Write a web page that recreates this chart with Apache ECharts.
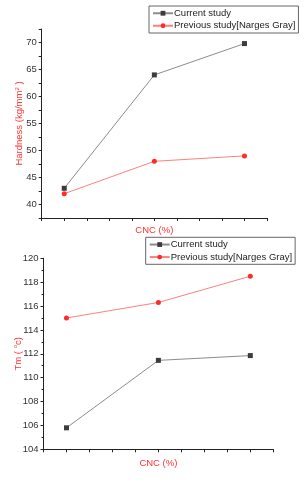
<!DOCTYPE html>
<html><head><meta charset="utf-8">
<script src="https://cdn.jsdelivr.net/npm/echarts@6/dist/echarts.min.js"></script>
<style>html,body{margin:0;padding:0;background:#fff}#c{width:306px;height:480px}</style>
</head><body><div id="c"></div>
<script>
const cnc = [1, 2, 3];
const hardnessCurrent = [43, 64, 69.8];
const hardnessPrevious = [42, 48, 49];
const tmCurrent = [105.8, 111.45, 111.85];
const tmPrevious = [115.0, 116.3, 118.5];
const seriesNames = ['Current study', 'Previous study[Narges Gray]'];

const FONT = '"Liberation Sans", Arial, sans-serif';
const grayLine = '#8c8c8c', grayMark = '#3c3c3c';
const redLine = '#ff8080', redMark = '#ff2a2a';
const nameRed = '#ff3030';

function pairs(xs, ys){ return xs.map((x,i)=>[x, ys[i]]); }

const chart = echarts.init(document.getElementById('c'), null, {renderer:'canvas'});
function xAxisCfg(gi, gap){
  return {
    gridIndex: gi, type:'value', min:0.75, max:3.25, interval:0.25,
    name:'CNC (%)', nameLocation:'middle', nameGap:gap, nameMoveOverlap:false,
    nameTextStyle:{color:nameRed, fontSize:9.5, fontFamily:FONT},
    axisLine:{lineStyle:{color:'#222', width:1}},
    axisTick:{show:true, length:3, lineStyle:{color:'#222'}},
    axisLabel:{show:false}, splitLine:{show:false}
  };
}
function yAxisCfg(gi, min, max, interval, labelStep, name, gap, minor){
  return {
    gridIndex: gi, type:'value', min:min, max:max, interval:interval,
    name:name, nameLocation:'middle', nameGap:gap, nameMoveOverlap:false,
    nameTextStyle:{color:nameRed, fontSize:9.5, fontFamily:FONT,
      rich:{a:{color:nameRed, fontSize:9.5, fontFamily:FONT, lineHeight:11},
            s:{color:nameRed, fontSize:6, fontFamily:FONT, verticalAlign:'top', lineHeight:11}}},
    axisLine:{show:true, lineStyle:{color:'#222', width:1}},
    axisTick:{show:true, length:3, lineStyle:{color:'#222'}},
    minorTick:{show:minor, splitNumber:2, length:2, lineStyle:{color:'#222'}},
    axisLabel:{color:'#333', fontSize:9.5, fontFamily:FONT, margin:5,
      formatter:(v)=> (Math.abs(v/labelStep - Math.round(v/labelStep))<1e-6 ? String(Math.round(v)) : '')},
    splitLine:{show:false}
  };
}
function legendCfg(top, left){
  return {
    show:true, orient:'vertical', top:top, left:left,
    data:seriesNames.map(n=>({name:n})),
    itemWidth:20, itemHeight:6, itemGap:0,
    padding:[1,3,1,3], borderColor:'#666', borderWidth:1, borderRadius:0,
    textStyle:{fontSize:9.5, fontFamily:FONT, color:'#222', lineHeight:12.5, padding:[0,0,0,-4]},
    selectedMode:false
  };
}
chart.setOption({
  animation:false,
  backgroundColor:'#fff',
  grid:[
    {left:41.7, right:39, top:29, bottom:262},
    {left:43.5, right:32.7, top:258.3, bottom:30.7}
  ],
  xAxis:[xAxisCfg(0, 7.5), xAxisCfg(1, 9.5)],
  yAxis:[
    yAxisCfg(0, 37.5, 72.5, 2.5, 5, '{a|Hardness (kg/mm}{s|2}{a| )}', 16.5, false),
    yAxisCfg(1, 104, 120, 2, 2, '{a|Tm ( }{s|o}{a|c)}', 20, true)
  ],
  legend:[legendCfg(6, 149), legendCfg(237.3, 145.7)],
  series:[
    {name:seriesNames[0], type:'line', xAxisIndex:0, yAxisIndex:0, data:pairs(cnc, hardnessCurrent),
      symbol:'rect', symbolSize:5, lineStyle:{color:grayLine, width:1}, itemStyle:{color:grayMark}},
    {name:seriesNames[1], type:'line', xAxisIndex:0, yAxisIndex:0, data:pairs(cnc, hardnessPrevious),
      symbol:'circle', symbolSize:5, lineStyle:{color:redLine, width:1}, itemStyle:{color:redMark}},
    {name:seriesNames[0], type:'line', xAxisIndex:1, yAxisIndex:1, data:pairs(cnc, tmCurrent),
      symbol:'rect', symbolSize:5, lineStyle:{color:grayLine, width:1}, itemStyle:{color:grayMark}},
    {name:seriesNames[1], type:'line', xAxisIndex:1, yAxisIndex:1, data:pairs(cnc, tmPrevious),
      symbol:'circle', symbolSize:5, lineStyle:{color:redLine, width:1}, itemStyle:{color:redMark}}
  ]
});
</script></body></html>
